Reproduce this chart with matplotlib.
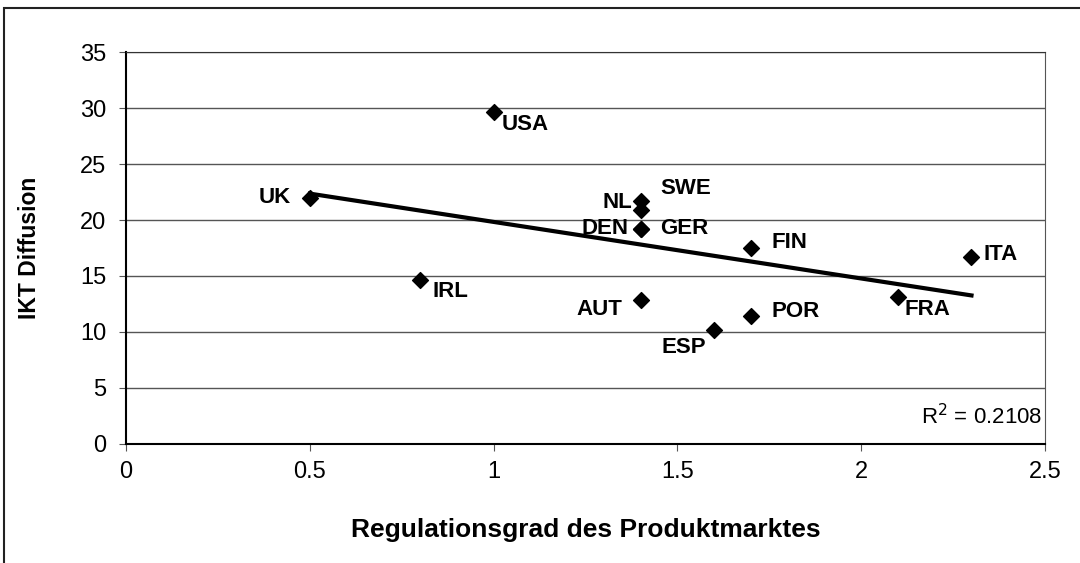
import numpy as np
import matplotlib.pyplot as plt
from matplotlib.patches import Rectangle

plt.rcParams['font.family'] = ['Liberation Sans', 'DejaVu Sans']

countries = ['UK', 'USA', 'IRL', 'NL', 'SWE', 'DEN', 'GER', 'AUT', 'ESP', 'POR', 'FIN', 'FRA', 'ITA']
regulation = [0.5, 1.0, 0.8, 1.4, 1.4, 1.4, 1.4, 1.4, 1.6, 1.7, 1.7, 2.1, 2.3]
ikt = [22.0, 29.6, 14.6, 20.9, 21.7, 19.2, 19.2, 12.9, 10.2, 11.4, 17.5, 13.1, 16.7]
# label offsets in points (dx, dy, ha)
label_pos = {
    'UK': (-14, 0, 'right'), 'USA': (6, -9, 'left'), 'IRL': (9, -8, 'left'),
    'NL': (-6, 5, 'right'), 'SWE': (14, 9, 'left'), 'DEN': (-9, 0, 'right'),
    'GER': (14, 0, 'left'), 'AUT': (-13, -7, 'right'), 'ESP': (-6, -13, 'right'),
    'POR': (15, 3.5, 'left'), 'FIN': (15, 4, 'left'), 'FRA': (5, -9, 'left'),
    'ITA': (9, 2, 'left'),
}
r2_text = 'R$^2$ = 0.2108'

fig = plt.figure(figsize=(10.8, 5.63), dpi=100)
ax = fig.add_axes([0.1167, 0.2114, 0.8509, 0.6962])

# outer chart frame (cropped on right and bottom)
fig.add_artist(Rectangle((4 / 1080, -0.1), 1.2, 1 - 8 / 563 + 0.1, transform=fig.transFigure,
                         fill=False, edgecolor='#222222', linewidth=1.5))

ax.grid(axis='y', color='#555555', linewidth=1)
ax.set_axisbelow(True)

ax.scatter(regulation, ikt, marker='D', s=65, color='black', zorder=3)

coef = np.polyfit(regulation, ikt, 1)
xs = np.array([min(regulation), max(regulation)])
ax.plot(xs, np.polyval(coef, xs), color='black', linewidth=3, zorder=2)

for c, x, y in zip(countries, regulation, ikt):
    dx, dy, ha = label_pos[c]
    ax.annotate(c, (x, y), xytext=(dx, dy), textcoords='offset points',
                ha=ha, va='center', fontsize=16, fontweight='bold')

ax.text(2.492, 1.3, r2_text, ha='right', va='bottom', fontsize=16)

ax.set_xlim(0, 2.5)
ax.set_ylim(0, 35)
ax.set_xticks(np.arange(0, 2.51, 0.5))
ax.set_xticklabels(['0', '0.5', '1', '1.5', '2', '2.5'])
ax.set_yticks(range(0, 36, 5))
ax.tick_params(direction='out', length=5, labelsize=17, color='#555555')
ax.tick_params(axis='x', pad=7)
ax.tick_params(axis='y', pad=9)

for s in ['left', 'bottom']:
    ax.spines[s].set_color('black')
    ax.spines[s].set_linewidth(1.5)
ax.spines['top'].set_color('#333333')
ax.spines['right'].set_color('#555555')

ax.set_xlabel('Regulationsgrad des Produktmarktes', fontsize=19, fontweight='bold')
ax.set_ylabel('IKT Diffusion', fontsize=16.5, fontweight='bold')
ax.xaxis.set_label_coords(0.5, -0.19)
ax.yaxis.set_label_coords(-0.092, 0.5)

fig.savefig('out.png', dpi=100, facecolor='white')
